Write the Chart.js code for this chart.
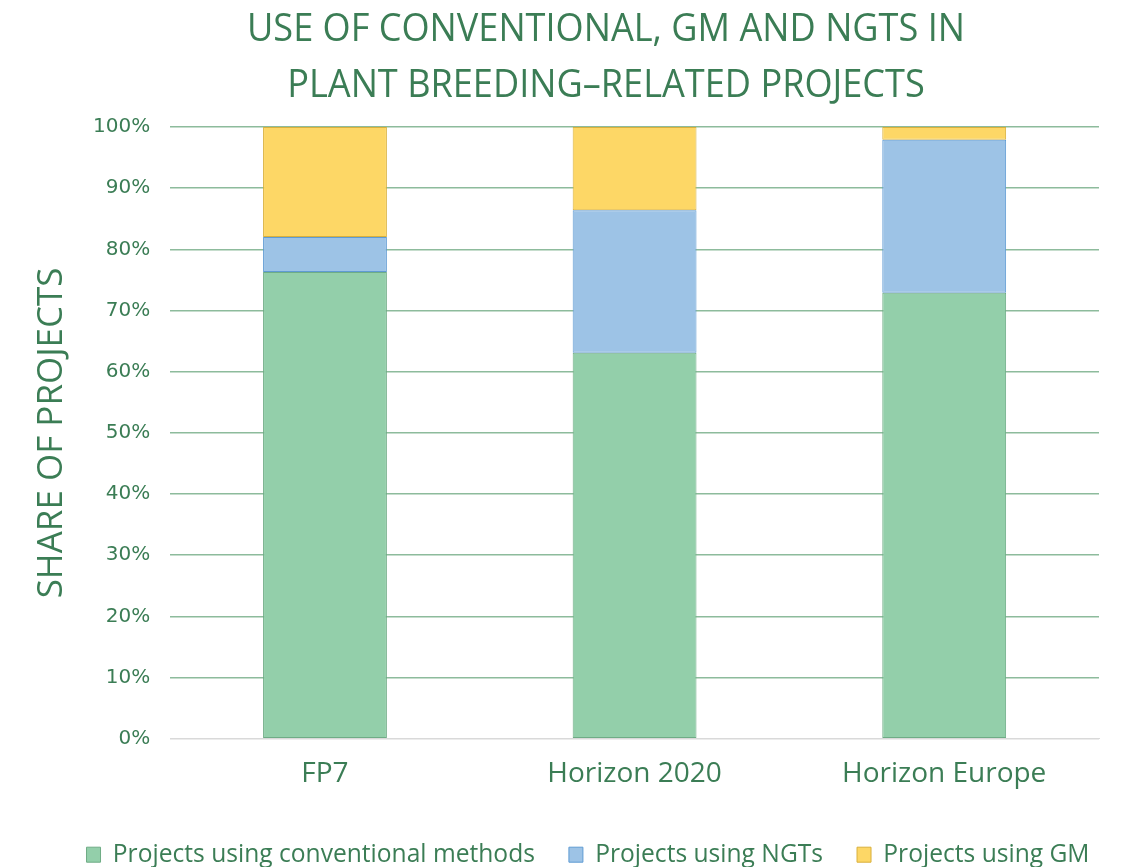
<!DOCTYPE html>
<html>
<head>
<meta charset="utf-8">
<script src="https://cdn.jsdelivr.net/npm/chart.js@4.4.1/dist/chart.umd.min.js"></script>
<style>
  html, body { margin: 0; padding: 0; background: #fff; }
  #wrap { width: 1123px; height: 867px; position: relative; }
</style>
</head>
<body>
<div id="wrap"><canvas id="shareChart"></canvas></div>
<script>
// data (share of projects, %)
var programmes = ['FP7', 'Horizon 2020', 'Horizon Europe'];
var conventional = [76.3, 63.1, 72.9];
var ngts = [5.7, 23.3, 25.0];
var gm = [18.0, 13.6, 2.1];
var seriesNames = ['Projects using conventional methods', 'Projects using NGTs', 'Projects using GM'];
var titleLines = ['USE OF CONVENTIONAL, GM AND NGTS IN', 'PLANT BREEDING\u2013RELATED PROJECTS'];

var textGreen = '#3b7d55';

// narrow two-line title, squeezed horizontally like the original
var condensedTitle = {
    id: 'condensedTitle',
    afterLayout: function (chart) {
        // legend in the original is centred around x=588
        var shift = 588 - (chart.legend.left + chart.legend.right) / 2;
        chart.legend.left += shift;
        chart.legend.right += shift;
    },
    afterDraw: function (chart) {
        var c = chart.ctx;
        c.save();
        c.font = '39px "Open Sans"';
        c.fillStyle = textGreen;
        c.textAlign = 'center';
        c.textBaseline = 'alphabetic';
        var s = 718 / c.measureText(titleLines[0]).width;
        var baselines = [41, 97];
        for (var i = 0; i < titleLines.length; i++) {
            c.save();
            c.translate(606, baselines[i]);
            c.scale(s, 1);
            c.fillText(titleLines[i], 0, 0);
            c.restore();
        }
        c.restore();
    }
};

var ctx = document.getElementById('shareChart').getContext('2d');
var shareChart = new Chart(ctx, {
    type: 'bar',
    data: {
        labels: programmes,
        datasets: [{
            label: seriesNames[0],
            data: conventional,
            backgroundColor: '#93cfaa',
            borderColor: '#6fac86',
            borderWidth: 1,
            borderSkipped: false
        }, {
            label: seriesNames[1],
            data: ngts,
            backgroundColor: '#9dc3e6',
            borderColor: '#5f9bd3',
            borderWidth: 1,
            borderSkipped: false
        }, {
            label: seriesNames[2],
            data: gm,
            backgroundColor: '#fdd766',
            borderColor: '#d9b03c',
            borderWidth: 1,
            borderSkipped: false
        }]
    },
    plugins: [condensedTitle],
    options: {
        responsive: true,
        maintainAspectRatio: false,
        animation: false,
        barPercentage: 0.4,
        categoryPercentage: 1,
        layout: { padding: { left: 0, right: 24, top: 127, bottom: -10 } },
        scales: {
            x: {
                stacked: true,
                grid: { display: false },
                border: { display: true, color: '#d9d9d9' },
                ticks: { color: textGreen, font: { family: 'Open Sans', size: 28 }, padding: 10 },
                // empty title only used as spacing above the legend
                title: { display: true, text: '', font: { size: 6.7 }, padding: 0 }
            },
            y: {
                stacked: true,
                min: 0,
                max: 100,
                border: { display: false },
                grid: {
                    drawTicks: false,
                    color: function (c) { return c.tick && c.tick.value === 0 ? '#d9d9d9' : '#8dbb9c'; },
                    lineWidth: 1.5
                },
                ticks: {
                    stepSize: 10,
                    padding: 20,
                    color: textGreen,
                    font: { family: 'DejaVu Sans', size: 20 },
                    callback: function (v) { return v + '%'; }
                },
                title: {
                    display: true,
                    text: 'SHARE OF PROJECTS',
                    color: textGreen,
                    font: { family: 'Open Sans', size: 35 },
                    padding: { top: 31, bottom: 0 }
                }
            }
        },
        plugins: {
            title: { display: false },
            legend: {
                position: 'bottom',
                labels: {
                    color: textGreen,
                    boxWidth: 14,
                    boxHeight: 15,
                    padding: 34,
                    font: { family: 'Open Sans', size: 24.6 }
                }
            },
            tooltip: { enabled: false }
        }
    }
});
</script>
</body>
</html>
